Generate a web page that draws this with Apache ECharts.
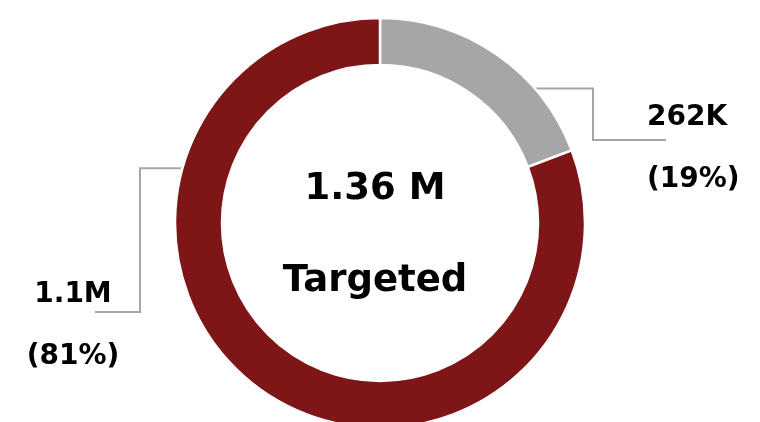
<!DOCTYPE html>
<html>
<head>
<meta charset="utf-8">
<title>Targeted</title>
<script src="https://cdn.jsdelivr.net/npm/echarts@6/dist/echarts.min.js"></script>
</head>
<body style="margin:0">
<div id="main" style="width:760px;height:422px;"></div>
<script type="text/javascript">
var segmentNames = ['262K', '1.1M'];
var segmentValues = [262000, 1100000];
var segmentColors = ['#a6a6a6', '#7e1517'];
var totalLabel = '1.36 M';
var centerCaption = 'Targeted';

var cx = 380, cy = 223, rOuter = 205, rInner = 158;
// where each leader line leaves the ring (degrees clockwise from 12 o'clock)
var lineAngles = [49, 285.5];

function edgePoint(deg) {
    var a = deg * Math.PI / 180;
    return [cx + rOuter * Math.sin(a), cy - rOuter * Math.cos(a)];
}

var chart = echarts.init(document.getElementById('main'));
chart.setOption({
    animation: false,
    graphic: [{
        type: 'text',
        x: 375,
        y: 235,
        style: {
            text: totalLabel + '\n' + centerCaption,
            align: 'center',
            verticalAlign: 'middle',
            fontFamily: 'DejaVu Sans',
            fontWeight: 'bold',
            fontSize: 37,
            lineHeight: 92,
            fill: '#000'
        }
    }],
    series: [{
        type: 'pie',
        center: [cx, cy],
        radius: [rInner, rOuter],
        startAngle: 90,
        clockwise: true,
        percentPrecision: 0,
        itemStyle: { borderColor: '#fff', borderWidth: 2.5 },
        label: {
            show: true,
            formatter: '{b}\n({d}%)',
            fontFamily: 'DejaVu Sans',
            fontWeight: 'bold',
            fontSize: 28,
            lineHeight: 62,
            color: '#000'
        },
        labelLine: {
            show: true,
            lineStyle: { color: '#a6a6a6', width: 2 }
        },
        labelLayout: function (params) {
            var i = params.dataIndex;
            var p = edgePoint(lineAngles[i]);
            if (i === 0) {
                return {
                    x: 647, y: 149, align: 'left', verticalAlign: 'middle',
                    labelLinePoints: [p, [593, p[1]], [593, 140], [666, 140]]
                };
            }
            return {
                x: 73, y: 326, align: 'center', verticalAlign: 'middle',
                labelLinePoints: [p, [140, p[1]], [140, 312], [95, 312]]
            };
        },
        data: segmentNames.map(function (n, i) {
            return { name: n, value: segmentValues[i], itemStyle: { color: segmentColors[i] } };
        })
    }]
});
</script>
</body>
</html>
